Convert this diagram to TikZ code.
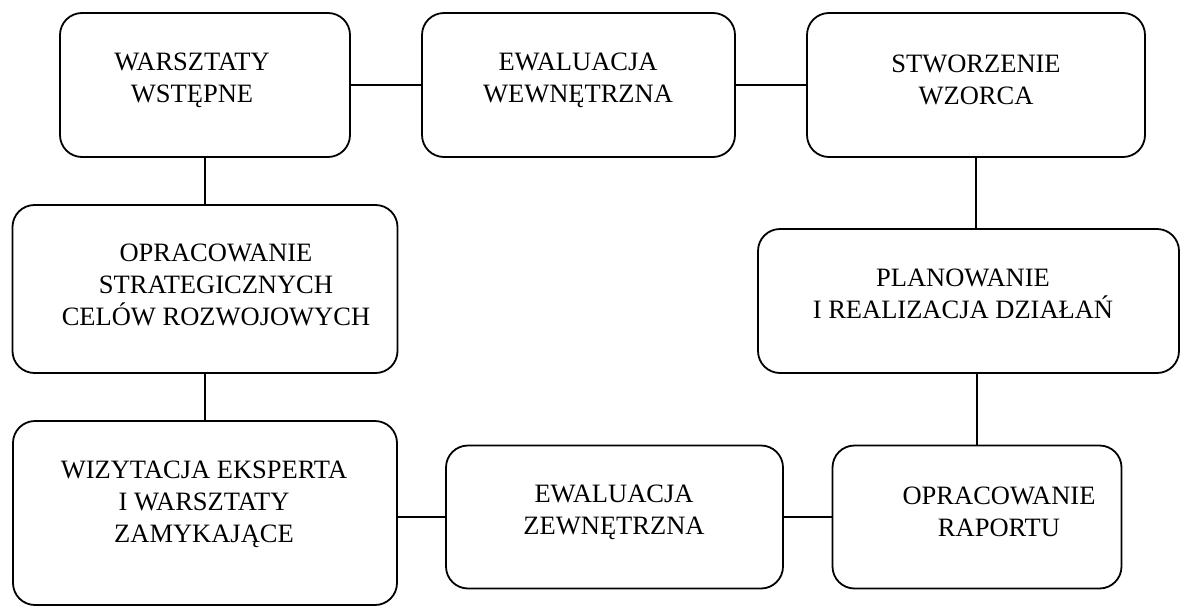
\documentclass[tikz,border=0pt]{standalone}
\usepackage{fontspec}
\setmainfont{Liberation Serif}
\begin{document}
\begin{tikzpicture}[x=1pt,y=-1pt,
  box/.style={draw=black,line width=1.8pt,rounded corners=22pt,inner sep=0pt,fill=white},
  lbl/.style={inner sep=0pt,align=center,font=\fontsize{26.5}{32}\selectfont},
  conn/.style={draw=black,line width=1.8pt}]
\useasboundingbox[fill=white] (0,0) rectangle (1181,608);
% boxes
\node[box,minimum width=290pt,minimum height=144pt] (b1) at (205,85) {};
\node[box,minimum width=313pt,minimum height=144pt] (b2) at (578.5,85) {};
\node[box,minimum width=338pt,minimum height=144pt] (b3) at (976,85) {};
\node[box,minimum width=385pt,minimum height=168pt] (b4) at (205,289) {};
\node[box,minimum width=421pt,minimum height=144pt] (b5) at (968.5,301) {};
\node[box,minimum width=384pt,minimum height=184pt] (b6) at (205,513) {};
\node[box,minimum width=337pt,minimum height=143pt] (b7) at (614.5,517) {};
\node[box,minimum width=289pt,minimum height=143pt] (b8) at (977,517) {};
% labels
\node[lbl] (t1) at (192,80) {WARSZTATY\\WSTĘPNE};
\node[lbl] (t2) at (578,80) {EWALUACJA\\WEWNĘTRZNA};
\node[lbl] (t3) at (976,80) {STWORZENIE\\WZORCA};
\node[lbl] (t4) at (216,285) {OPRACOWANIE\\STRATEGICZNYCH\\CELÓW ROZWOJOWYCH};
\node[lbl] (t5) at (963,294) {PLANOWANIE\\I REALIZACJA DZIAŁAŃ};
\node[lbl] (t6) at (204,504) {WIZYTACJA EKSPERTA\\I WARSZTATY\\ZAMYKAJĄCE};
\node[lbl] (t7) at (614,512) {EWALUACJA\\ZEWNĘTRZNA};
\node[lbl] (t8) at (999,512) {OPRACOWANIE\\RAPORTU};
% connectors
\draw[conn] (b1) -- (b2);
\draw[conn] (b2) -- (b3);
\draw[conn] (b1.south) -- (b1.south |- b4.north);
\draw[conn] (b4.south) -- (b4.south |- b6.north);
\draw[conn] (b3.south) -- (b3.south |- b5.north);
\draw[conn] (b8.north) -- (b8.north |- b5.south);
\draw[conn] (b7.west) -- (b7.west -| b6.east);
\draw[conn] (b7) -- (b8);
\end{tikzpicture}
\end{document}
